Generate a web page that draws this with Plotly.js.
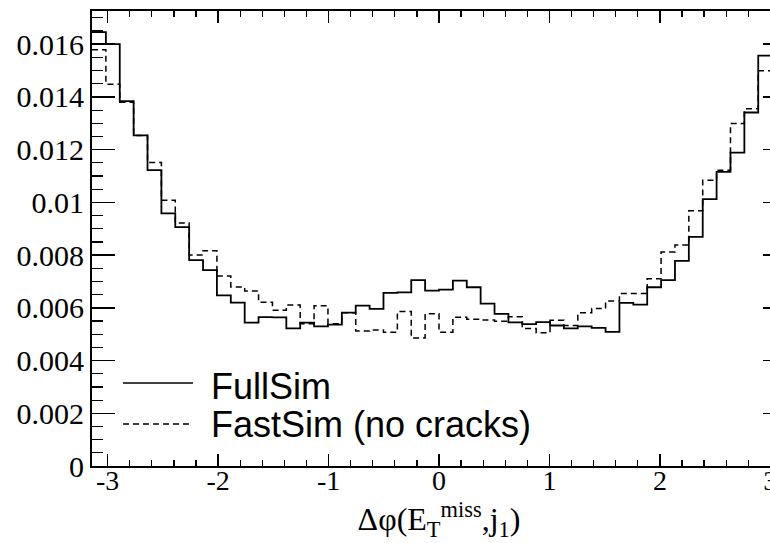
<!DOCTYPE html>
<html>
<head>
<meta charset="utf-8">
<script src="https://cdn.plot.ly/plotly-3.0.1.min.js"></script>
<style>
  html, body { margin: 0; padding: 0; overflow: hidden; background: #fff; }
  #plot { width: 800px; height: 543px; }
</style>
</head>
<body>
<div id="plot"></div>
<script>
// Normalised Δφ(E_T^miss, j1) distributions, 50 bins over [-π, π]
const nBins = 50;

const fullSim = [
  0.01646, 0.01600, 0.01384, 0.01254, 0.01122, 0.00958, 0.00906, 0.00781, 0.00743, 0.00647,
  0.00620, 0.00544, 0.00565, 0.00564, 0.00522, 0.00544, 0.00530, 0.00536, 0.00582, 0.00608,
  0.00596, 0.00657, 0.00659, 0.00705, 0.00665, 0.00669, 0.00703, 0.00678, 0.00616, 0.00577,
  0.00545, 0.00538, 0.00546, 0.00533, 0.00522, 0.00530, 0.00524, 0.00509, 0.00619, 0.00612,
  0.00678, 0.00705, 0.00778, 0.00869, 0.01012, 0.01116, 0.01189, 0.01341, 0.01557, 0.01640
];

const fastSim = [
  0.01579, 0.01448, 0.01380, 0.01254, 0.01151, 0.01008, 0.00922, 0.00800, 0.00817, 0.00721,
  0.00679, 0.00664, 0.00621, 0.00591, 0.00611, 0.00540, 0.00608, 0.00540, 0.00581, 0.00512,
  0.00516, 0.00507, 0.00586, 0.00486, 0.00578, 0.00507, 0.00564, 0.00557, 0.00554, 0.00549,
  0.00566, 0.00522, 0.00505, 0.00553, 0.00533, 0.00581, 0.00597, 0.00626, 0.00654, 0.00654,
  0.00710, 0.00812, 0.00838, 0.00968, 0.01084, 0.01122, 0.01299, 0.01355, 0.01499, 0.01600
];

const xTickVals = [-3, -2, -1, 0, 1, 2, 3];
const xTickText = ['-3', '-2', '-1', '0', '1', '2', '3'];
const yTickVals = [0, 0.002, 0.004, 0.006, 0.008, 0.010, 0.012, 0.014, 0.016];
const yTickText = ['0', '0.002', '0.004', '0.006', '0.008', '0.01', '0.012', '0.014', '0.016'];
const seriesNames = ['FullSim', 'FastSim (no cracks)'];
const yMax = 0.01726;

// Frame geometry in pixels
const W = 800, H = 543;
const L = 92, R = 786, T = 11, B = 466;
const px = x => (x - L) / (R - L);
const py = y => (B - y) / (B - T);

// Bin edges and step outline (last value repeated to close the final bin)
const binW = 2 * Math.PI / nBins;
const edges = Array.from({ length: nBins + 1 }, (_, i) => -Math.PI + i * binW);
const stepY = v => v.concat([v[v.length - 1]]);

const solidLine = { color: '#000', width: 1.8, shape: 'hv' };
const dashLine  = { color: '#000', width: 1.5, shape: 'hv', dash: '6px,4px' };

const traces = [
  { x: edges, y: stepY(fullSim), mode: 'lines', line: solidLine, name: seriesNames[0], hoverinfo: 'skip' },
  { x: edges, y: stepY(fastSim), mode: 'lines', line: dashLine,  name: seriesNames[1], hoverinfo: 'skip' }
];

const serif = 'Liberation Serif, Times New Roman, serif';
const sans = 'Liberation Sans, Arial, sans-serif';

const layout = {
  width: W, height: H,
  margin: { l: L, r: W - R, t: T, b: H - B, pad: 0 },
  paper_bgcolor: '#fff', plot_bgcolor: '#fff',
  showlegend: false,
  xaxis: {
    range: [-Math.PI, Math.PI],
    showgrid: false, zeroline: false,
    showline: true, linecolor: '#000', linewidth: 2, mirror: 'ticks',
    ticks: 'inside', ticklen: 12, tickwidth: 1.5, tickcolor: '#000',
    tickvals: xTickVals, ticktext: xTickText,
    tickfont: { family: serif, size: 28, color: '#000' }, ticklabelstandoff: -12,
    minor: { ticks: 'inside', ticklen: 6, tickwidth: 1.2, tickcolor: '#000', dtick: 0.2, tick0: 0, showgrid: false },
    title: {
      text: 'Δφ(E<sub>T</sub><sup>miss</sup>,j<sub>1</sub>)',
      font: { family: serif, size: 32, color: '#000' },
      standoff: 13
    }
  },
  yaxis: {
    range: [0, yMax],
    showgrid: false, zeroline: false,
    showline: true, linecolor: '#000', linewidth: 2, mirror: 'ticks',
    ticks: 'inside', ticklen: 23, tickwidth: 1.5, tickcolor: '#000',
    tickvals: yTickVals, ticktext: yTickText,
    tickfont: { family: serif, size: 30, color: '#000' }, ticklabelstandoff: 0,
    minor: { ticks: 'inside', ticklen: 11, tickwidth: 1.2, tickcolor: '#000', dtick: 0.0005, tick0: 0, showgrid: false }
  },
  shapes: [
    { type: 'line', xref: 'paper', yref: 'paper', x0: px(123), x1: px(193), y0: py(383), y1: py(383),
      line: { color: '#000', width: 1.5 } },
    { type: 'line', xref: 'paper', yref: 'paper', x0: px(123), x1: px(193), y0: py(424), y1: py(424),
      line: { color: '#000', width: 1.5, dash: '6px,4px' } }
  ],
  annotations: [
    { xref: 'paper', yref: 'paper', x: px(209), y: py(386), xanchor: 'left', yanchor: 'middle',
      text: seriesNames[0], showarrow: false,
      font: { family: sans, size: 36, color: '#000' } },
    { xref: 'paper', yref: 'paper', x: px(209), y: py(424), xanchor: 'left', yanchor: 'middle',
      text: seriesNames[1], showarrow: false,
      font: { family: sans, size: 36, color: '#000' } }
  ]
};

Plotly.newPlot('plot', traces, layout, { staticPlot: true, displayModeBar: false });
</script>
</body>
</html>
